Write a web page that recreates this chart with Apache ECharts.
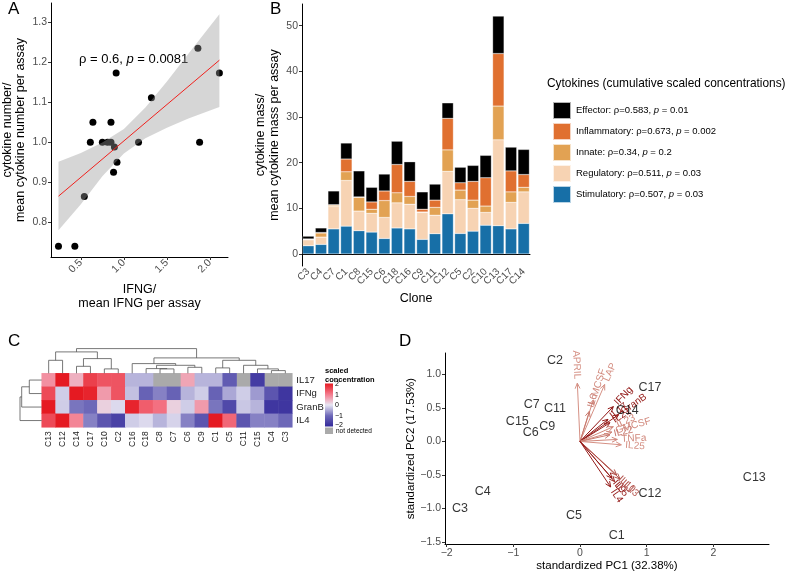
<!DOCTYPE html>
<html>
<head>
<meta charset="utf-8">
<script src="https://cdn.jsdelivr.net/npm/echarts@6/dist/echarts.min.js"></script>
<style>
html, body { margin: 0; padding: 0; background: #fff; }
#main { width: 786px; height: 573px; }
</style>
</head>
<body>
<div id="main"></div>
<script>
// ---------- panel A: cytokine number vs IFNG ----------
var ifngRatio = [0.24, 0.43, 0.54, 0.61, 0.75, 0.81, 0.85, 0.89, 0.92, 0.88, 1.17, 0.64, 0.85, 0.91, 1.32, 1.86, 2.11, 1.88];
var cytoNumRatio = [0.74, 0.74, 0.864, 1.0, 1.0, 1.0, 1.0, 0.988, 0.95, 0.925, 1.0, 1.05, 1.05, 1.173, 1.111, 1.235, 1.173, 1.0];
var fitX = [0.24, 2.11];
var fitY = [0.865, 1.205];
var bandX = [0.24, 0.5, 0.75, 1.0, 1.25, 1.5, 1.75, 2.11];
var bandLo = [0.78, 0.845, 0.915, 0.972, 1.010, 1.036, 1.059, 1.088];
var bandHi = [0.951, 0.973, 0.999, 1.033, 1.087, 1.152, 1.221, 1.32];

// ---------- panel B: stacked cytokine mass ----------
var clonesB = ['C3','C4','C7','C1','C8','C15','C6','C18','C16','C9','C11','C12','C5','C2','C10','C13','C17','C14'];
var stimulatory  = [1.8, 2.1, 5.5, 6.1, 5.1, 4.8, 3.4, 5.7, 5.5, 3.2, 4.45, 8.8, 4.5, 5.0, 6.3, 6.2, 5.5, 6.7];
var regulatory   = [1.3, 1.6, 4.9, 10.0, 4.3, 4.1, 4.6, 5.5, 5.4, 5.9, 4.05, 9.3, 7.4, 5.0, 2.8, 18.8, 5.8, 6.9];
var innate       = [0.1, 0.9, 0.3, 1.9, 3.0, 0.9, 3.7, 2.2, 1.7, 0.1, 1.7, 4.7, 2.1, 1.8, 1.4, 7.4, 2.3, 1.0];
var inflammatory = [0.1, 0.1, 0.1, 2.8, 0.1, 1.6, 2.1, 6.2, 3.3, 0.6, 1.6, 6.9, 1.6, 4.1, 6.2, 11.5, 4.6, 2.8];
var effector     = [0.6, 1.0, 3.0, 3.5, 5.7, 3.2, 3.7, 5.1, 4.3, 3.8, 3.5, 3.4, 3.4, 3.5, 4.9, 8.2, 5.2, 5.5];
var legendLabels = {
  Effector: ['Effector: ρ=0.583, ', ' = 0.01'],
  Inflammatory: ['Inflammatory: ρ=0.673, ', ' = 0.002'],
  Innate: ['Innate: ρ=0.34, ', ' = 0.2'],
  Regulatory: ['Regulatory: ρ=0.511, ', ' = 0.03'],
  Stimulatory: ['Stimulatory: ρ=0.507, ', ' = 0.03']
};

// ---------- panel C: heatmap (null = not detected) ----------
var clonesC = ['C13','C12','C14','C17','C10','C2','C16','C18','C8','C7','C6','C9','C1','C5','C11','C15','C4','C3'];
var cytoRows = ['IL17','IFNg','GranB','IL4'];
var heatIL17  = [0.8, 2.0, 0.5, 1.6, 1.4, 1.4, -0.4, -0.4, null, null, 0.6, -0.4, -0.4, -1.2, null, -1.7, null, null];
var heatIFNg  = [1.5, -0.2, 2.0, 1.9, 0.7, 1.4, -0.3, -1.1, -0.8, -1.1, -0.4, -0.2, -1.1, -0.5, -0.2, -0.6, -1.3, -1.8];
var heatGranB = [2.0, -0.2, -0.9, -1.0, 0.2, -0.1, 1.9, 1.3, 1.1, 0.2, -0.2, 0.7, -0.9, -1.5, -0.25, -0.4, -1.8, -1.8];
var heatIL4   = [1.5, 2.0, 0.9, -0.8, -1.3, -1.6, -0.2, -0.1, -0.4, -0.15, -0.8, -1.3, 2.0, 1.2, -1.3, -0.8, -0.8, -1.0];
// merges: [pos1, height1, pos2, height2, mergeHeight]
var colMerges = [
  [0, 0, 1, 0, 13], [2, 0, 3, 0, 7], [4, 0, 5, 0, 4.4], [2.5, 7, 4.5, 4.4, 14.7], [0.5, 13, 3.5, 14.7, 21.4],
  [8, 0, 9, 0, 4.4], [7, 0, 8.5, 4.4, 4.7], [10, 0, 11, 0, 6], [7.75, 4.7, 10.5, 6, 8], [6, 0, 9.125, 8, 9.7],
  [12, 0, 13, 0, 5.4], [16, 0, 17, 0, 2.7], [15, 0, 16.5, 2.7, 4.4], [14, 0, 15.75, 4.4, 8],
  [12.5, 5.4, 14.875, 8, 13], [7.5625, 9.7, 13.6875, 13, 15.4], [2, 21.4, 10.625, 15.4, 24.7]
];
var rowMerges = [[0, 0, 1, 0, 12.4], [0.5, 12.4, 2, 0, 20], [1.25, 20, 3, 0, 21.7]];

// ---------- panel D: PCA biplot ----------
var pcClone = ['C2','C17','C7','C11','C15','C9','C6','C14','C13','C4','C12','C3','C5','C1'];
var pc1 = [-0.375, 1.05, -0.725, -0.375, -0.94, -0.49, -0.74, 0.71, 2.615, -1.46, 1.05, -1.8, -0.09, 0.55];
var pc2 = [1.205, 0.81, 0.558, 0.488, 0.29, 0.224, 0.134, 0.463, -0.546, -0.755, -0.78, -1.005, -1.104, -1.41];
var varNames = ['APRIL','LAP','MCSF','IL6','IFNg','GranB','IL17','IL21','IL23','GMCSF','IL22','TNFa','IL25','IL10','IL13','IL5','IL9','IL4'];
var varPC1 = [-0.04, 0.37, 0.2, 0.14, 0.5, 0.58, 0.42, 0.45, 0.5, 0.48, 0.45, 0.56, 0.62, 0.55, 0.6, 0.52, 0.48, 0.46];
var varPC2 = [0.87, 0.85, 0.62, 0.45, 0.52, 0.4, 0.33, 0.28, 0.22, 0.14, 0.1, 0.03, -0.05, -0.5, -0.56, -0.6, -0.55, -0.68];
var varContrib = [0.15, 0.15, 0.2, 0.3, 0.95, 0.85, 0.9, 0.85, 0.2, 0.2, 0.3, 0.2, 0.15, 0.55, 0.55, 0.8, 0.9, 0.9];

var FONT = 'Liberation Sans, Arial, Helvetica, sans-serif';
var tickGrey = '#4d4d4d';

function shadeColor(c) {
  // light salmon -> dark red
  var a = [226, 168, 153], b = [139, 10, 10];
  var r = a.map(function (v, k) { return Math.round(v + (b[k] - v) * c); });
  return 'rgb(' + r.join(',') + ')';
}
function minusFmt(d) {
  return function (v) { return v.toFixed(d).replace('-', '\u2212'); };
}

function baseValueAxis(grid, min, max, ticks, dec, extra, rotate) {
  var ax = {
    type: 'value', gridIndex: grid, min: min, max: max,
    splitLine: { show: false },
    axisLine: { show: true, onZero: false, lineStyle: { color: '#000', width: 1 } },
    axisTick: { show: true, length: 3, customValues: ticks, lineStyle: { color: '#333' } },
    axisLabel: { customValues: ticks, formatter: minusFmt(dec), color: tickGrey, fontSize: 10.5, margin: 4, rotate: rotate || 0 }
  };
  for (var k in extra) ax[k] = extra[k];
  return ax;
}

var heatData = [], naData = [];
[heatIL17, heatIFNg, heatGranB, heatIL4].forEach(function (row, r) {
  row.forEach(function (v, c) {
    if (v === null) naData.push([c, r, 0]);
    else heatData.push([c, r, v]);
  });
});

function barSeries(name, data, color) {
  return {
    name: name, type: 'bar', stack: 'mass', xAxisIndex: 1, yAxisIndex: 1,
    data: data, barCategoryGap: '10%',
    itemStyle: { color: color, borderColor: 'rgba(255,255,255,0.7)', borderWidth: 0.4 }
  };
}

var chart = echarts.init(document.getElementById('main'), null, { renderer: 'canvas' });

var option = {
  animation: false,
  textStyle: { fontFamily: FONT },
  grid: [
    { left: 49, top: 3, width: 179, height: 254 },
    { left: 302, top: 4, width: 228, height: 262 },
    { left: 41.7, top: 373.3, width: 250.6, height: 54 },
    { left: 41.7, top: 348.6, width: 250.6, height: 24.7 },
    { left: 20, top: 373.3, width: 21.7, height: 54 },
    { left: 445, top: 353, width: 324, height: 191 }
  ],
  xAxis: [
    baseValueAxis(0, 0.153, 2.21, [0.5, 1, 1.5, 2], 1, {
      name: 'IFNG/\nmean IFNG per assay', nameLocation: 'middle', nameGap: 26,
      nameTextStyle: { fontSize: 12.5, color: '#000', lineHeight: 14 }
    }, 45),
    {
      type: 'category', gridIndex: 1, data: clonesB,
      axisLine: { lineStyle: { color: '#000', width: 1 } },
      axisTick: { alignWithLabel: true, length: 3, lineStyle: { color: '#333' } },
      axisLabel: { rotate: 45, interval: 0, fontSize: 10, color: tickGrey, margin: 4 },
      name: 'Clone', nameLocation: 'middle', nameGap: 26,
      nameTextStyle: { fontSize: 12.5, color: '#000' }
    },
    {
      type: 'category', gridIndex: 2, data: clonesC,
      axisLine: { show: false }, axisTick: { show: false },
      axisLabel: { rotate: 90, interval: 0, fontSize: 8.5, color: '#222', margin: 4 }
    },
    { type: 'value', gridIndex: 3, min: -0.5, max: 17.5, show: false },
    { type: 'value', gridIndex: 4, min: 0, max: 21.7, inverse: true, show: false },
    baseValueAxis(5, -2.025, 2.835, [-2, -1, 0, 1, 2], 0, {
      name: 'standardized PC1 (32.38%)', nameLocation: 'middle', nameGap: 16,
      nameTextStyle: { fontSize: 11.5, color: '#000' }
    })
  ],
  yAxis: [
    baseValueAxis(0, 0.713, 1.348, [0.8, 0.9, 1.0, 1.1, 1.2, 1.3], 1, {
      name: 'cytokine number/\nmean cytokine number per assay', nameLocation: 'middle', nameGap: 24,
      nameTextStyle: { fontSize: 12.5, color: '#000', lineHeight: 13 }
    }),
    baseValueAxis(1, -2.63, 54.75, [0, 10, 20, 30, 40, 50], 0, {
      name: 'cytokine mass/\nmean cytokine mass per assay', nameLocation: 'middle', nameGap: 20,
      nameTextStyle: { fontSize: 12.5, color: '#000', lineHeight: 14 }
    }),
    {
      type: 'category', gridIndex: 2, data: cytoRows, inverse: true, position: 'right',
      axisLine: { show: false }, axisTick: { show: false },
      axisLabel: { fontSize: 9.5, color: '#222', margin: 4 }
    },
    { type: 'value', gridIndex: 3, min: 0, max: 24.7, show: false },
    { type: 'value', gridIndex: 4, min: -0.5, max: 3.5, inverse: true, show: false },
    baseValueAxis(5, -1.531, 1.32, [-1.5, -1, -0.5, 0, 0.5, 1], 1, {
      name: 'standardized PC2 (17.53%)', nameLocation: 'middle', nameGap: 25,
      nameTextStyle: { fontSize: 11.5, color: '#000' }
    })
  ],
  visualMap: {
    show: false, seriesIndex: 9, min: -2, max: 2,
    inRange: { color: ['#33299a', '#6d68b8', '#e8e6f3', '#f47a8c', '#e51a22'] }
  },
  legend: {
    data: ['Effector', 'Inflammatory', 'Innate', 'Regulatory', 'Stimulatory'],
    orient: 'vertical', left: 547, top: 96,
    itemWidth: 18, itemHeight: 17, itemGap: 2, icon: 'rect',
    textStyle: {
      fontSize: 9.5, color: '#000',
      rich: { i: { fontStyle: 'italic', fontSize: 9.5, color: '#000' }, n: { fontSize: 9.5, color: '#000' } }
    },
    formatter: function (name) {
      var t = legendLabels[name];
      return '{n|' + t[0] + '}{i|p}{n|' + t[1] + '}';
    }
  },
  graphic: [
    { type: 'text', left: 8, top: 1, style: { text: 'A', font: '17px ' + FONT, fill: '#000' } },
    { type: 'text', left: 270, top: 1, style: { text: 'B', font: '17px ' + FONT, fill: '#000' } },
    { type: 'text', left: 8, top: 333, style: { text: 'C', font: '17px ' + FONT, fill: '#000' } },
    { type: 'text', left: 399, top: 333, style: { text: 'D', font: '17px ' + FONT, fill: '#000' } },
    {
      type: 'text', x: 79, y: 59,
      style: {
        text: '{n|ρ = 0.6, }{i|p}{n| = 0.0081}', verticalAlign: 'middle',
        rich: { n: { fontSize: 13, fontFamily: FONT, fill: '#000' }, i: { fontSize: 13, fontStyle: 'italic', fontFamily: FONT, fill: '#000' } }
      }
    },
    { type: 'text', x: 547, y: 84, style: { text: 'Cytokines (cumulative scaled concentrations)', fontSize: 11.9, fontFamily: FONT, fill: '#000', verticalAlign: 'middle' } },
    { type: 'text', x: 325, y: 371, style: { text: 'scaled', fontSize: 7.5, fontWeight: 'bold', fontFamily: FONT, fill: '#000', verticalAlign: 'middle' } },
    { type: 'text', x: 325, y: 379.5, style: { text: 'concentration', fontSize: 7.5, fontWeight: 'bold', fontFamily: FONT, fill: '#000', verticalAlign: 'middle' } },
    {
      type: 'rect', shape: { x: 325, y: 383.5, width: 8, height: 43 },
      style: {
        fill: new echarts.graphic.LinearGradient(0, 0, 0, 1, [
          { offset: 0, color: '#e51a22' }, { offset: 0.25, color: '#f47a8c' },
          { offset: 0.5, color: '#e8e6f3' }, { offset: 0.75, color: '#6d68b8' }, { offset: 1, color: '#33299a' }
        ])
      }
    },
    { type: 'rect', shape: { x: 325, y: 427.5, width: 8, height: 6.5 }, style: { fill: '#aaaaaa' } },
    { type: 'text', x: 335, y: 384.3, style: { text: '2', fontSize: 7, fontFamily: FONT, fill: '#000', verticalAlign: 'middle' } },
    { type: 'text', x: 335, y: 395, style: { text: '1', fontSize: 7, fontFamily: FONT, fill: '#000', verticalAlign: 'middle' } },
    { type: 'text', x: 335, y: 405.5, style: { text: '0', fontSize: 7, fontFamily: FONT, fill: '#000', verticalAlign: 'middle' } },
    { type: 'text', x: 335, y: 416, style: { text: '\u22121', fontSize: 7, fontFamily: FONT, fill: '#000', verticalAlign: 'middle' } },
    { type: 'text', x: 335, y: 425.5, style: { text: '\u22122', fontSize: 7, fontFamily: FONT, fill: '#000', verticalAlign: 'middle' } },
    { type: 'text', x: 336, y: 431.5, style: { text: 'not detected', fontSize: 6.5, fontFamily: FONT, fill: '#000', verticalAlign: 'middle' } }
  ],
  series: [
    // 0: A points
    {
      type: 'scatter', xAxisIndex: 0, yAxisIndex: 0, symbolSize: 7, z: 2,
      itemStyle: { color: '#000', opacity: 1 },
      data: ifngRatio.map(function (x, i) { return [x, cytoNumRatio[i]]; })
    },
    // 1: A confidence band
    {
      type: 'custom', xAxisIndex: 0, yAxisIndex: 0, z: 3, data: [[bandX[0], bandLo[0]]],
      renderItem: function (params, api) {
        var pts = [];
        bandX.forEach(function (x, i) { pts.push(api.coord([x, bandHi[i]])); });
        for (var i = bandX.length - 1; i >= 0; i--) pts.push(api.coord([bandX[i], bandLo[i]]));
        return { type: 'polygon', shape: { points: pts }, style: { fill: 'rgba(153,153,153,0.4)', stroke: null } };
      }
    },
    // 2: A fit line
    {
      type: 'line', xAxisIndex: 0, yAxisIndex: 0, z: 4, showSymbol: false, symbol: 'none',
      lineStyle: { color: '#f0201c', width: 1 },
      data: fitX.map(function (x, i) { return [x, fitY[i]]; })
    },
    // 3-7: B stacked bars
    barSeries('Stimulatory', stimulatory, '#176fa7'),
    barSeries('Regulatory', regulatory, '#f7d3b3'),
    barSeries('Innate', innate, '#e2a253'),
    barSeries('Inflammatory', inflammatory, '#e07030'),
    barSeries('Effector', effector, '#000000'),
    // 8: C not detected cells
    {
      type: 'heatmap', xAxisIndex: 2, yAxisIndex: 2, data: naData,
      itemStyle: { color: '#aaaaaa' }
    },
    // 9: C heatmap
    { type: 'heatmap', xAxisIndex: 2, yAxisIndex: 2, data: heatData },
    // 10: C column dendrogram
    {
      type: 'custom', xAxisIndex: 3, yAxisIndex: 3, data: colMerges,
      encode: { x: [0, 2], y: [1, 3, 4] },
      renderItem: function (params, api) {
        var x1 = api.value(0), h1 = api.value(1), x2 = api.value(2), h2 = api.value(3), h = api.value(4);
        return {
          type: 'polyline',
          shape: { points: [api.coord([x1, h1]), api.coord([x1, h]), api.coord([x2, h]), api.coord([x2, h2])] },
          style: { stroke: '#555', lineWidth: 0.8, fill: null }
        };
      }
    },
    // 11: C row dendrogram
    {
      type: 'custom', xAxisIndex: 4, yAxisIndex: 4, data: rowMerges,
      encode: { x: [1, 3, 4], y: [0, 2] },
      renderItem: function (params, api) {
        var y1 = api.value(0), h1 = api.value(1), y2 = api.value(2), h2 = api.value(3), h = api.value(4);
        return {
          type: 'polyline',
          shape: { points: [api.coord([h1, y1]), api.coord([h, y1]), api.coord([h, y2]), api.coord([h2, y2])] },
          style: { stroke: '#555', lineWidth: 0.8, fill: null }
        };
      }
    },
    // 12: D loading arrows
    {
      type: 'custom', xAxisIndex: 5, yAxisIndex: 5, z: 3,
      data: varPC1.map(function (x, i) { return [x, varPC2[i]]; }),
      renderItem: function (params, api) {
        var i = params.dataIndex;
        var o = api.coord([0, 0]);
        var t = api.coord([api.value(0), api.value(1)]);
        var a = Math.atan2(t[1] - o[1], t[0] - o[0]);
        var col = shadeColor(varContrib[i]);
        var hl = 6, w = 0.42;
        var p1 = [t[0] - hl * Math.cos(a - w), t[1] - hl * Math.sin(a - w)];
        var p2 = [t[0] - hl * Math.cos(a + w), t[1] - hl * Math.sin(a + w)];
        var lx = t[0] + 4 * Math.cos(a), ly = t[1] + 4 * Math.sin(a);
        var rot = -a, align = 'left';
        if (t[0] < o[0]) { rot = -a - Math.PI; align = 'right'; }
        return {
          type: 'group',
          children: [
            { type: 'line', shape: { x1: o[0], y1: o[1], x2: t[0], y2: t[1] }, style: { stroke: col, lineWidth: 1 } },
            { type: 'polyline', shape: { points: [p1, t, p2] }, style: { stroke: col, lineWidth: 1, fill: null } },
            {
              type: 'text', x: lx, y: ly, rotation: rot,
              style: { text: varNames[i], align: align, verticalAlign: 'middle', fill: col, fontSize: 10, fontFamily: FONT }
            }
          ]
        };
      }
    },
    // 13: D clone labels
    {
      type: 'scatter', xAxisIndex: 5, yAxisIndex: 5, z: 5, symbolSize: 1,
      itemStyle: { color: 'rgba(0,0,0,0)' },
      label: {
        show: true, position: 'inside', fontSize: 12.5, color: '#000',
        formatter: function (p) { return pcClone[p.dataIndex]; }
      },
      data: pc1.map(function (x, i) { return [x, pc2[i]]; })
    }
  ]
};

chart.setOption(option);
</script>
</body>
</html>
